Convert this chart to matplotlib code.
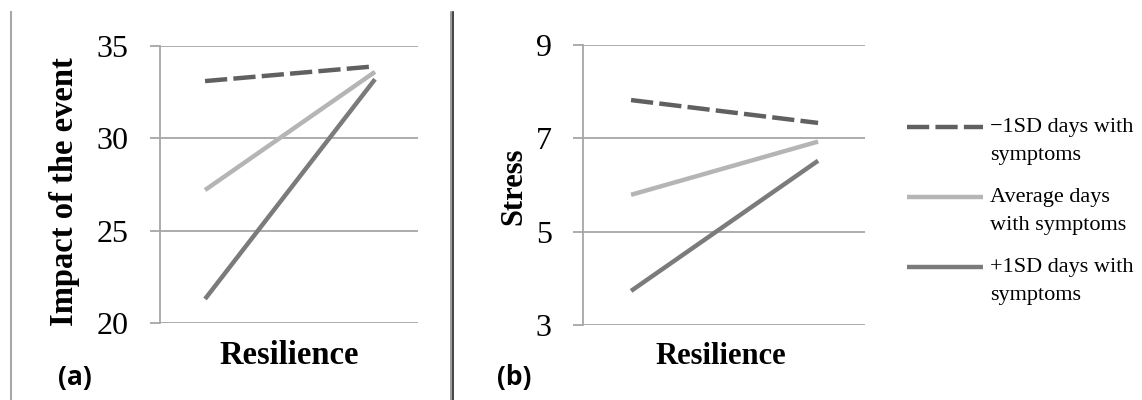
import numpy as np
import matplotlib
matplotlib.use('Agg')
import matplotlib.pyplot as plt
from matplotlib.lines import Line2D
from matplotlib.legend_handler import HandlerLine2D

plt.rcParams['font.family'] = ['Liberation Serif', 'DejaVu Serif']

# data
resilience_levels = ['Low', 'High']
series_labels = ['\u22121SD days with\nsymptoms', 'Average days\nwith symptoms', '+1SD days with\nsymptoms']
impact_minus1sd = [33.1, 33.9]
impact_average = [27.2, 33.6]
impact_plus1sd = [21.3, 33.2]
stress_minus1sd = [7.82, 7.33]
stress_average = [5.79, 6.93]
stress_plus1sd = [3.73, 6.52]
impact_ticks = [20, 25, 30, 35]
stress_ticks = [3, 5, 7, 9]

colors = ['#606060', '#b5b5b5', '#7b7b7b']
styles = [(0, (5, 1.4)), '-', '-']
grid_col = '#a6a6a6'

W, H = 1142, 400
fig = plt.figure(figsize=(W / 100, H / 100), dpi=100)


def px_axes(x0, x1, y0, y1):
    # pixel box (from top-left) -> figure fraction
    return fig.add_axes([x0 / W, 1 - y1 / H, (x1 - x0) / W, (y1 - y0) / H])


def style_axes(ax, ticks, xlim):
    ax.set_ylim(ticks[0], ticks[-1])
    ax.set_yticks(ticks)
    ax.set_xlim(*xlim)
    ax.set_xticks([])
    ax.grid(axis='y', color=grid_col, lw=1.3)
    ax.tick_params(axis='y', length=7.5, width=1.3, color=grid_col, pad=15,
                   labelsize=23)
    for s in ['top', 'right', 'bottom']:
        ax.spines[s].set_visible(False)
    ax.spines['left'].set_color(grid_col)
    ax.spines['left'].set_linewidth(1.3)


x = np.arange(len(resilience_levels))

ax1 = px_axes(160, 418, 46, 323)
for vals, c, ls in zip([impact_minus1sd, impact_average, impact_plus1sd], colors, styles):
    ax1.plot(x, vals, color=c, ls=ls, lw=3.2, solid_capstyle='butt', dash_capstyle='butt')
style_axes(ax1, impact_ticks, (-0.265, 1.253))
ax1.set_ylabel('Impact of the event', fontsize=23.5, fontweight='bold')
ax1.yaxis.set_label_coords(-0.31, 0.475)
ax1.set_xlabel('Resilience', fontsize=23.5, fontweight='bold')
ax1.xaxis.set_label_coords(0.5, -0.062)

ax2 = px_axes(583, 865, 45, 325)
lines = []
for vals, c, ls, lab in zip([stress_minus1sd, stress_average, stress_plus1sd], colors, styles, series_labels):
    ln, = ax2.plot(x, vals, color=c, ls=ls, lw=3.2, solid_capstyle='butt',
                   dash_capstyle='butt', label=lab)
    lines.append(ln)
style_axes(ax2, stress_ticks, (-0.257, 1.251))
ax2.set_ylabel('Stress', fontsize=22, fontweight='bold')
ax2.yaxis.set_label_coords(-0.195, 0.496)
ax2.set_xlabel('Resilience', fontsize=22, fontweight='bold')
ax2.xaxis.set_label_coords(0.489, -0.06)

LEG_FS = 16
LEG_LS = 1.66


class FirstLineHandler(HandlerLine2D):
    # put the handle next to the first text line instead of the middle
    def create_artists(self, legend, orig_handle, xdescent, ydescent, width,
                       height, fontsize, trans):
        arts = super().create_artists(legend, orig_handle, xdescent, ydescent,
                                      width, height, fontsize, trans)
        for a in arts:
            a.set_ydata(np.asarray(a.get_ydata(), float) + 9.7)
        return arts


leg = fig.legend(handles=lines, loc='upper left',
                 bbox_to_anchor=(907 / W, 1 - 118 / H),
                 frameon=False, fontsize=LEG_FS, handlelength=3.42,
                 handletextpad=0.31, labelspacing=1.02, borderpad=0,
                 borderaxespad=0,
                 handler_map={Line2D: FirstLineHandler()})
for t in leg.get_texts():
    t.set_linespacing(LEG_LS)

# panel letters
fig.text(58 / W, 1 - 378 / H, '(a)', fontsize=19, fontweight='bold',
         family='Open Sans', ha='left', va='center')
fig.text(497 / W, 1 - 378 / H, '(b)', fontsize=19, fontweight='bold',
         family='Open Sans', ha='left', va='center')

# frame lines of the original figure
fig.add_artist(Line2D([11 / W, 11 / W], [0, 1 - 12 / H], color='#a8a8a8', lw=1.5))
fig.add_artist(Line2D([450.5 / W, 450.5 / W], [0, 1 - 12 / H], color='#8a8a8a', lw=1.2))
fig.add_artist(Line2D([452.5 / W, 452.5 / W], [0, 1 - 12 / H], color='#222222', lw=1.2))

fig.savefig('out.png', dpi=100)
